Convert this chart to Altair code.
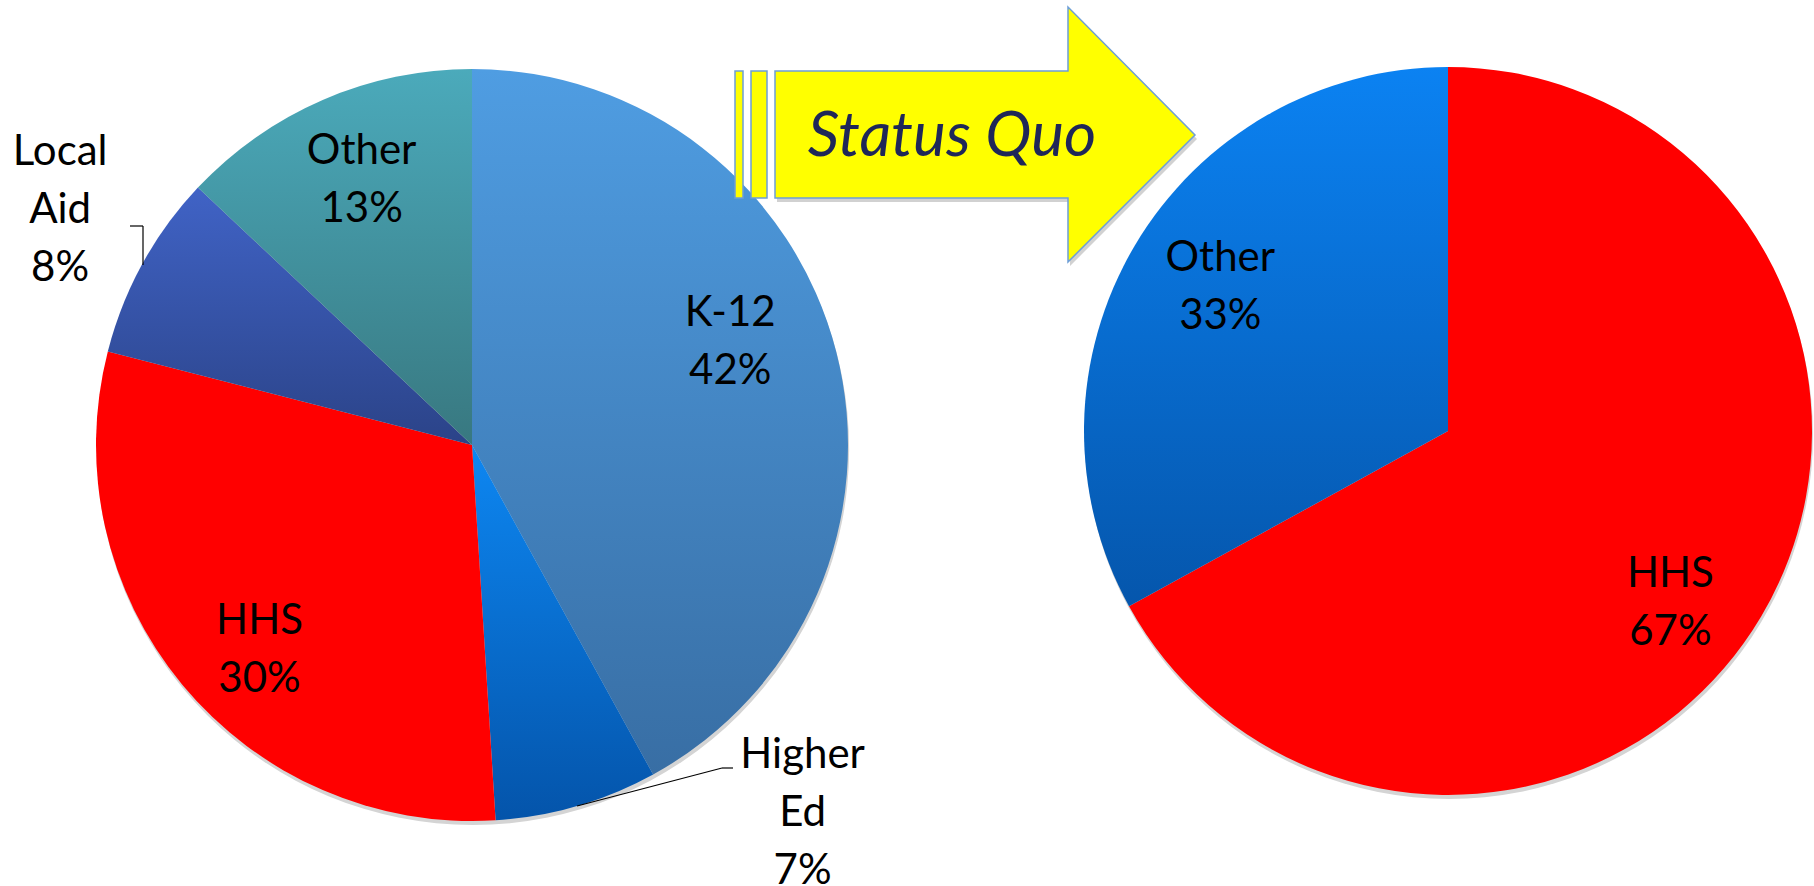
import math
import altair as alt
import pandas as pd

W, H = 1814, 886

# ---- data ----
left_categories = ["K-12", "Higher Ed", "HHS", "Local Aid", "Other"]
left_values = [42, 7, 30, 8, 13]
right_categories = ["HHS", "Other"]
right_values = [67, 33]

# arrow outline (decorative shape), pixel offsets from the arrow's centre
arrow_pts_x = [-210, 83, 83, 210, 83, 83, -210]
arrow_pts_y = [-64, -64, -128, 0, 127, 63, 63]


def make_df(cats, vals):
    return pd.DataFrame({
        "category": cats,
        "value": vals,
        "order": list(range(len(cats))),
        "label": [c.replace(" ", "\n") + "\n" + f"{v}%" for c, v in zip(cats, vals)],
    })


left_df = make_df(left_categories, left_values)
right_df = make_df(right_categories, right_values)
one = pd.DataFrame({"k": [0]})

theta_scale = alt.Scale(domain=[0, 100])
FONT = "Lato"
FS = 42
LH = 58


def grad(top, bottom):
    return alt.Gradient(
        gradient="linear", x1=0, y1=0, x2=0, y2=1,
        stops=[alt.GradientStop(color=top, offset=0),
               alt.GradientStop(color=bottom, offset=1)],
    )


def pie_base(df):
    return (alt.Chart(df)
            .transform_window(cum="sum(value)", sort=[alt.SortField("order")], frame=[None, 0])
            .transform_calculate(start="datum.cum - datum.value",
                                 mid="datum.cum - datum.value / 2"))


def slice_layer(df, cat, cx, cy, r, fill):
    return (pie_base(df)
            .transform_filter(alt.datum.category == cat)
            .mark_arc(radius=r, fill=fill, strokeWidth=0)
            .encode(theta=alt.Theta("start:Q", scale=theta_scale, stack=None),
                    theta2="cum:Q",
                    x=alt.value(cx), y=alt.value(cy)))


def label_layer(df, cat, cx, cy, r, dx, dy):
    n_lines = df.loc[df.category == cat, "label"].iloc[0].count("\n") + 1
    dy = dy - (n_lines - 1) * LH / 2
    return (pie_base(df)
            .transform_filter(alt.datum.category == cat)
            .mark_text(radius=r, dx=dx, dy=dy, font=FONT, fontSize=FS, lineHeight=LH,
                       lineBreak="\n", align="center", baseline="middle", color="#000000")
            .encode(theta=alt.Theta("mid:Q", scale=theta_scale, stack=None),
                    x=alt.value(cx), y=alt.value(cy), text="label:N"))


def shadow(cx, cy, r):
    return (alt.Chart(one).mark_arc(radius=r, theta=0, theta2=2 * math.pi,
                                    fill="#d4d4d4", strokeWidth=0)
            .encode(x=alt.value(cx), y=alt.value(cy)))


LCX, LCY, LR = 472, 445, 376
RCX, RCY, RR = 1448, 431, 364

left_fills = {
    "K-12": grad("#4F9DE2", "#386EA4"),
    "Higher Ed": grad("#0D87F2", "#0454AA"),
    "HHS": "#FF0000",
    "Local Aid": grad("#4063C6", "#2B4388"),
    "Other": grad("#4BAABB", "#387880"),
}
right_fills = {
    "HHS": "#FF0000",
    "Other": grad("#0B82F2", "#0556AC"),
}

left_label_pos = {
    "K-12": (280, -13, -33),
    "Higher Ed": (400, 219, -16),
    "HHS": (290, 11, 20),
    "Local Aid": (470, 0, -9),
    "Other": (288, 4, -1),
}
right_label_pos = {
    "Other": (268, 3, -8),
    "HHS": (270, -10, 35),
}

layers = [shadow(LCX + 1, LCY + 4, LR), shadow(RCX + 1, RCY + 4, RR)]
for c in left_categories:
    layers.append(slice_layer(left_df, c, LCX, LCY, LR, left_fills[c]))
for c in right_categories:
    layers.append(slice_layer(right_df, c, RCX, RCY, RR, right_fills[c]))
for c in left_categories:
    r, dx, dy = left_label_pos[c]
    layers.append(label_layer(left_df, c, LCX, LCY, r, dx, dy))
for c in right_categories:
    r, dx, dy = right_label_pos[c]
    layers.append(label_layer(right_df, c, RCX, RCY, r, dx, dy))


# leader lines
def seg(x1, y1, x2, y2):
    return (alt.Chart(one).mark_rule(color="#000000", strokeWidth=1.2)
            .encode(x=alt.value(x1), y=alt.value(y1), x2=alt.value(x2), y2=alt.value(y2)))


layers += [seg(130, 226, 143, 226), seg(143, 226, 143, 265),
           seg(733, 768, 722, 768), seg(722, 768, 577, 806)]

# arrow: a custom symbol path (size 4 -> path units are pixels)
ARROW_STROKE = "#6E9FD6"
arrow_path = "M " + " L ".join(f"{x} {y}" for x, y in zip(arrow_pts_x, arrow_pts_y)) + " Z"
arrow_shadow = (alt.Chart(one)
                .mark_point(shape=arrow_path, size=4, filled=True, fill="#bdbdbd",
                            strokeWidth=0, opacity=0.7)
                .encode(x=alt.value(987), y=alt.value(139)))
arrow = (alt.Chart(one)
         .mark_point(shape=arrow_path, size=4, filled=True, fill="#FFFF00",
                     stroke=ARROW_STROKE, strokeWidth=1.5, opacity=1)
         .encode(x=alt.value(985), y=alt.value(135)))
layers += [arrow_shadow, arrow]


def bar(x1, x2):
    return (alt.Chart(one).mark_rect(fill="#FFFF00", stroke=ARROW_STROKE, strokeWidth=1.5)
            .encode(x=alt.value(x1), x2=alt.value(x2), y=alt.value(71), y2=alt.value(198)))


layers += [bar(735, 743), bar(751, 767)]

status = (alt.Chart(one)
          .mark_text(text="Status Quo", font=FONT, fontSize=62, fontStyle="italic",
                     color="#1F2758", align="center", baseline="alphabetic")
          .encode(x=alt.value(952), y=alt.value(156)))
layers.append(status)

chart = (alt.layer(*layers)
         .properties(width=W, height=H, autosize=alt.AutoSizeParams(type="none"), padding=0)
         .configure_view(stroke=None))

chart.save("out.html", embed_options={"renderer": "svg", "actions": False})
